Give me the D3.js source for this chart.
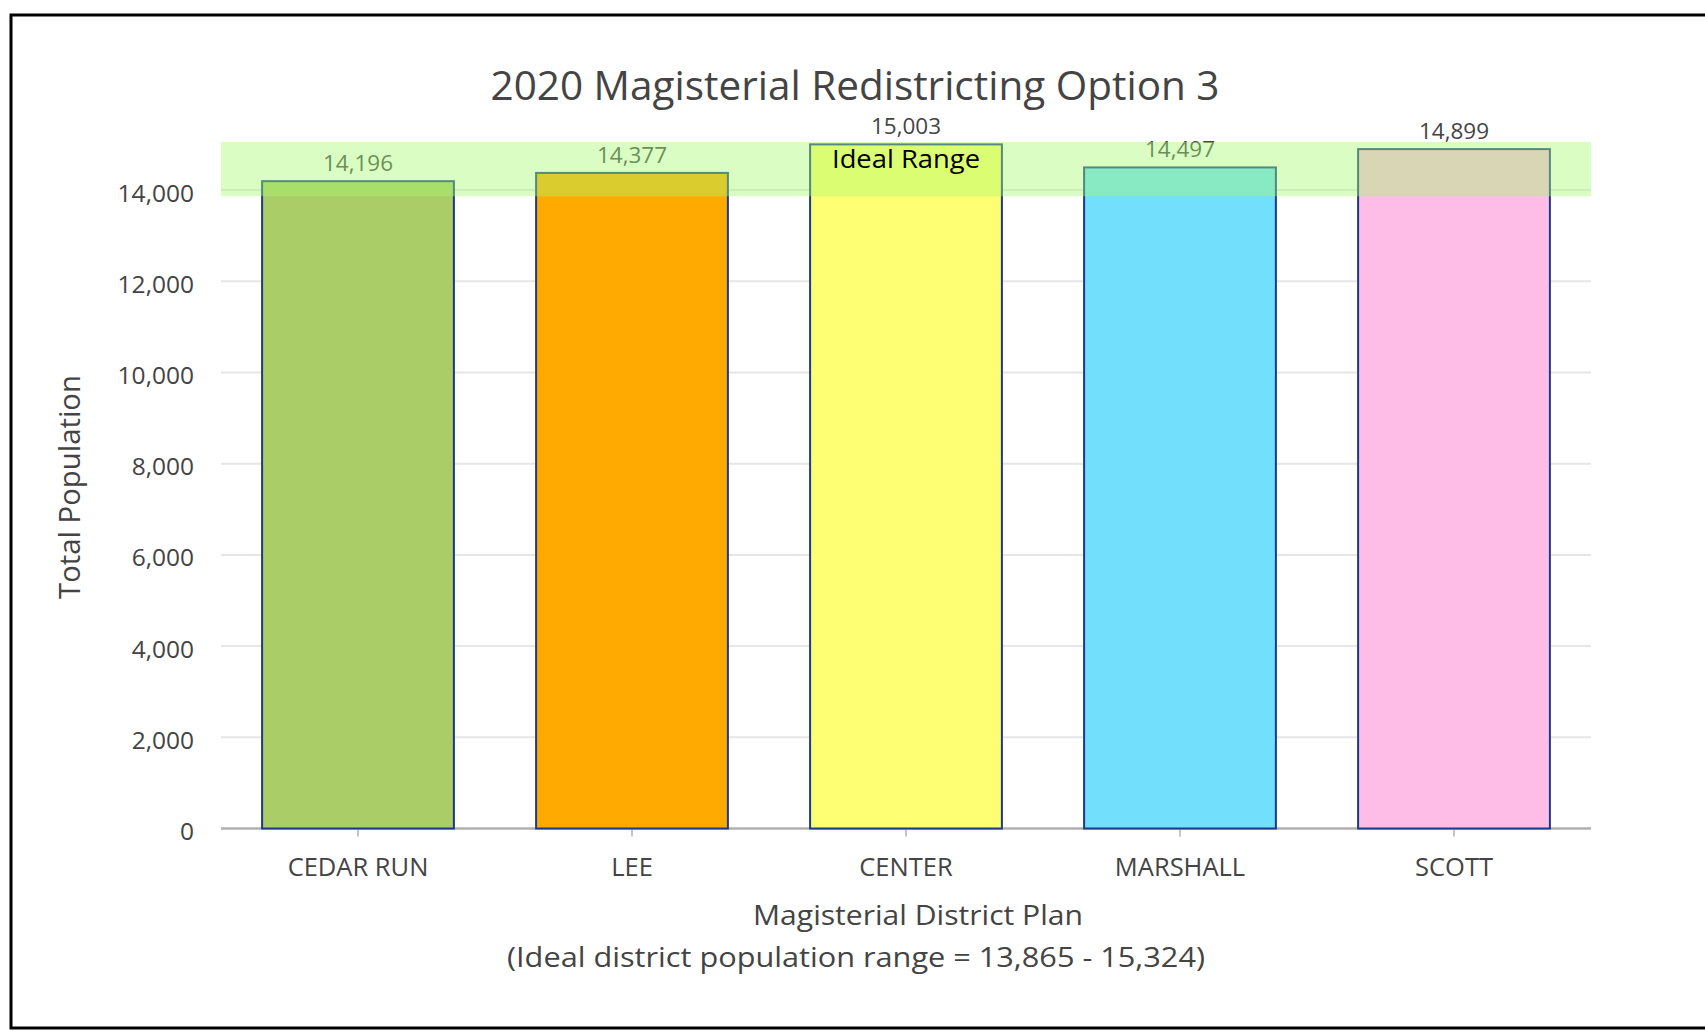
<!DOCTYPE html>
<html>
<head>
<meta charset="utf-8">
<script src="https://cdn.jsdelivr.net/npm/d3@7"></script>
<style>
  body { margin: 0; background: #fff; }
  text { font-family: "Open Sans", "Noto Sans", sans-serif; }
</style>
</head>
<body>
<div id="chart"></div>
<script>
// data
const districts = ["CEDAR RUN", "LEE", "CENTER", "MARSHALL", "SCOTT"];
const population = [14196, 14377, 15003, 14497, 14899];
const barColors = ["#abcd68", "#ffaa00", "#ffff73", "#72dffc", "#febde6"];
const idealRange = [13865, 15324];
const yTicks = [0, 2000, 4000, 6000, 8000, 10000, 12000, 14000];
const yMax = 15055;

const titleText = "2020 Magisterial Redistricting Option 3";
const yTitleText = "Total Population";
const xTitleText = "Magisterial District Plan";
const subTitleText = "(Ideal district population range = 13,865 - 15,324)";

const width = 1705, height = 1035;
const plot = { left: 221, right: 1591, top: 142, bottom: 828.5 };
const fmt = d3.format(",");

let svg = d3.select("#chart").append("svg")
  .attr("width", width)
  .attr("height", height);

// frame (right side is cut off in the original)
svg.append("path")
  .attr("d", `M${width},15 L11,15 L11,1028 L${width},1028`)
  .attr("fill", "none")
  .attr("stroke", "#000")
  .attr("stroke-width", 3);

let x = d3.scaleBand()
  .domain(districts)
  .range([plot.left, plot.right])
  .paddingInner(0.3)
  .paddingOuter(0.15);

let y = d3.scaleLinear()
  .domain([0, yMax])
  .range([plot.bottom, plot.top]);

svg.append("defs").append("clipPath")
  .attr("id", "plot-clip")
  .append("rect")
  .attr("x", plot.left)
  .attr("y", plot.top)
  .attr("width", plot.right - plot.left)
  .attr("height", plot.bottom - plot.top);

// gridlines
svg.append("g")
  .selectAll("line")
  .data(yTicks.filter(d => d > 0))
  .enter().append("line")
  .attr("x1", plot.left)
  .attr("x2", plot.right)
  .attr("y1", d => y(d))
  .attr("y2", d => y(d))
  .attr("stroke", "#e6e6e6")
  .attr("stroke-width", 2);

// x axis line + ticks
let xAxis = svg.append("g")
  .attr("transform", `translate(0,${plot.bottom})`)
  .call(d3.axisBottom(x).tickSize(8).tickSizeOuter(0).tickPadding(12));
xAxis.select(".domain")
  .attr("stroke", "#b0b0b0")
  .attr("stroke-width", 2.5)
  .attr("d", `M${plot.left},0H${plot.right}`);
xAxis.selectAll(".tick line")
  .attr("stroke", "#b0b0b0")
  .attr("stroke-width", 1.5);
xAxis.selectAll(".tick text")
  .attr("y", 0)
  .attr("dy", 0)
  .attr("transform", "translate(0,47)")
  .style("font-family", "'Open Sans', sans-serif")
  .style("font-size", "25.5px")
  .attr("fill", "#444");

// y axis labels
let yAxis = svg.append("g")
  .attr("transform", `translate(${plot.left},0)`)
  .call(d3.axisLeft(y).tickValues(yTicks).tickFormat(fmt).tickSize(0).tickPadding(27));
yAxis.select(".domain").remove();
yAxis.selectAll(".tick text")
  .attr("dy", 0)
  .attr("y", 11)
  .style("font-family", "'Open Sans', sans-serif")
  .style("font-size", "24.5px")
  .attr("fill", "#444");

// bars
svg.append("g")
  .selectAll("rect.bar")
  .data(districts)
  .enter().append("rect")
  .classed("bar", true)
  .attr("x", d => x(d))
  .attr("width", x.bandwidth())
  .attr("y", (d, i) => y(population[i]))
  .attr("height", (d, i) => y(0) - y(population[i]))
  .attr("fill", (d, i) => barColors[i])
  .attr("stroke", "#1c3a8c")
  .attr("stroke-width", 2);

// value labels
svg.append("g")
  .selectAll("text.value")
  .data(districts)
  .enter().append("text")
  .classed("value", true)
  .attr("x", d => x(d) + x.bandwidth() / 2)
  .attr("y", (d, i) => y(population[i]) - 10)
  .attr("text-anchor", "middle")
  .style("font-size", "22.5px")
  .attr("fill", "#444")
  .text((d, i) => fmt(population[i]));

// ideal range band
svg.append("rect")
  .attr("clip-path", "url(#plot-clip)")
  .attr("x", plot.left)
  .attr("width", plot.right - plot.left)
  .attr("y", y(idealRange[1]))
  .attr("height", y(idealRange[0]) - y(idealRange[1]))
  .attr("fill", "rgb(166,250,112)")
  .attr("fill-opacity", 0.41);

svg.append("text")
  .attr("x", (plot.left + plot.right) / 2)
  .attr("y", plot.top + 26)
  .attr("text-anchor", "middle")
  .style("font-size", "25px")
  .attr("fill", "#000")
  .attr("textLength", 148)
  .attr("lengthAdjust", "spacingAndGlyphs")
  .text("Ideal Range");

// titles
svg.append("text")
  .attr("x", 855)
  .attr("y", 100)
  .attr("text-anchor", "middle")
  .style("font-size", "40px")
  .attr("fill", "#444")
  .attr("textLength", 729)
  .attr("lengthAdjust", "spacingAndGlyphs")
  .text(titleText);

svg.append("text")
  .attr("transform", "translate(80,487) rotate(-90)")
  .attr("text-anchor", "middle")
  .style("font-size", "29px")
  .attr("fill", "#444")
  .attr("textLength", 224)
  .attr("lengthAdjust", "spacingAndGlyphs")
  .text(yTitleText);

svg.append("text")
  .attr("x", 918)
  .attr("y", 925)
  .attr("text-anchor", "middle")
  .style("font-size", "27px")
  .attr("fill", "#444")
  .attr("textLength", 330)
  .attr("lengthAdjust", "spacingAndGlyphs")
  .text(xTitleText);

svg.append("text")
  .attr("x", 856)
  .attr("y", 967)
  .attr("text-anchor", "middle")
  .style("font-size", "27px")
  .attr("fill", "#444")
  .attr("textLength", 698)
  .attr("lengthAdjust", "spacingAndGlyphs")
  .text(subTitleText);
</script>
</body>
</html>
